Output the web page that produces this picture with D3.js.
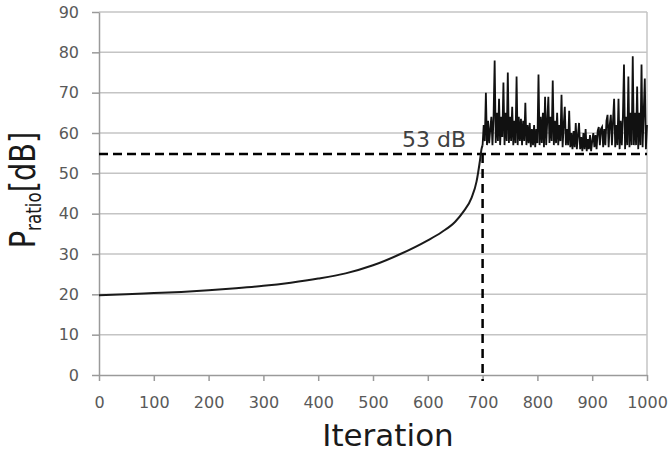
<!DOCTYPE html>
<html><head><meta charset="utf-8">
<script src="https://cdn.jsdelivr.net/npm/d3@7"></script>
<style>html,body{margin:0;padding:0;background:#fff;} svg{display:block;}</style>
</head><body>
<svg id="chart" width="670" height="452"></svg>
<script>
const curveIter = [0,50,100,150,200,250,300,350,400,450,500,550,600,625,650,665,680,689,695,698,700];
const curveVal  = [19.8,20.0,20.3,20.6,21.0,21.5,22.1,22.9,23.9,25.2,27.2,30.0,33.4,35.4,38.0,40.5,44.0,48.0,53.0,56.0,57.0];
const noiseIter = d3.range(700, 1001, 2);
const noiseVal = [
  57,62,58,70,57,63,57.5,61,64,57,
  64,78,57.5,65,58,68.5,57,64,59,72.5,
  57,65,58,75,57.5,64,58,66.5,57,63,
  57.5,74,57,64,58,63.5,57,63,58,67.5,
  57,62,57.5,62.5,56.5,61,57,62,56.5,61,
  57.5,74.5,57,64,57.5,65,56.5,69,57,63,
  69,57.5,64,58,73,57,63,57.5,65,57,
  62,58,69.5,56.5,62,66.5,57,61,57,65.5,
  56.5,60,56,60.5,56.5,62.5,56,59.5,62.5,56,
  59,55.5,60,56,61,55.5,58.5,56,59.5,55.5,
  58,60,56.5,59.5,56,60.5,61.5,57,61,61.5,
  56.5,61,57,63,64.5,56.5,62,64.5,57,63,
  68.5,56.5,62,57,68.5,56,63,57,64,77,
  56,64,57,74,56.5,65,57,79,57,65,
  57,71.5,56,65,57,77,56.5,65,73.5,56,
  62
];
const xTicks = [0,100,200,300,400,500,600,700,800,900,1000];
const yTicks = [0,10,20,30,40,50,60,70,80,90];
const thresholdDb = 54.8;
const thresholdIter = 700;
const annotation = "53 dB";
const xTitle = "Iteration";

const svg = d3.select("#chart");
const x = d3.scaleLinear().domain([0,1000]).range([99,647]);
const y = d3.scaleLinear().domain([0,90]).range([375,12]);

// gridlines
svg.append("g").selectAll("line").data(yTicks.filter(d=>d>0)).join("line")
  .attr("x1",x(0)).attr("x2",x(1000)).attr("y1",d=>y(d)).attr("y2",d=>y(d))
  .attr("stroke","#c4c4c4").attr("stroke-width",1.5);
// right border
svg.append("line").attr("x1",x(1000)).attr("x2",x(1000)).attr("y1",y(0)).attr("y2",y(90))
  .attr("stroke","#c4c4c4").attr("stroke-width",1.5);

// axes
const yAxis = svg.append("g").attr("transform",`translate(${x(0)},0)`)
  .call(d3.axisLeft(y).tickValues(yTicks).tickSize(7).tickPadding(13).tickSizeOuter(0));
const xAxis = svg.append("g").attr("transform",`translate(0,${y(0)})`)
  .call(d3.axisBottom(x).tickValues(xTicks).tickFormat(d3.format("d")).tickSize(6).tickPadding(16).tickSizeOuter(0));
[yAxis,xAxis].forEach(g=>{
  g.select(".domain").attr("stroke","#9a9a9a").attr("stroke-width",1.5);
  g.selectAll(".tick line").attr("stroke","#9a9a9a").attr("stroke-width",1.5);
  g.selectAll("text").attr("fill","#595959").style("font-family","'DejaVu Sans'").style("font-size","16px");
});

// dashed threshold lines
svg.append("line").attr("x1",x(0)).attr("x2",x(1000)).attr("y1",y(thresholdDb)).attr("y2",y(thresholdDb))
  .attr("stroke","#000").attr("stroke-width",2.5).attr("stroke-dasharray","9,5");
svg.append("line").attr("x1",x(thresholdIter)).attr("x2",x(thresholdIter)).attr("y1",y(thresholdDb)).attr("y2",y(0)+6)
  .attr("stroke","#000").attr("stroke-width",2.5).attr("stroke-dasharray","9,6");

// curve
const curveData = curveIter.map((d,i)=>[d,curveVal[i]]);
svg.append("path").datum(curveData)
  .attr("d", d3.line().x(d=>x(d[0])).y(d=>y(d[1])).curve(d3.curveMonotoneX))
  .attr("fill","none").attr("stroke","#1a1a1a").attr("stroke-width",2);
const n = Math.min(noiseIter.length, noiseVal.length);
const noiseData = d3.range(n).map(i=>[noiseIter[i],noiseVal[i]]);
svg.append("path").datum(noiseData)
  .attr("d", d3.line().x(d=>x(d[0])).y(d=>y(d[1])))
  .attr("fill","none").attr("stroke","#111").attr("stroke-width",1.8);

// annotation
svg.append("text").attr("x",402).attr("y",147).text(annotation)
  .attr("fill","#404040").style("font-family","'DejaVu Sans'").style("font-size","22px");

// axis titles
svg.append("text").attr("x",388).attr("y",446).attr("text-anchor","middle").text(xTitle)
  .attr("fill","#1a1a1a").style("font-family","'DejaVu Sans'").style("font-size","31px");
const yt = svg.append("text").attr("transform","translate(35,190) rotate(-90) scale(0.8,1)").attr("text-anchor","middle")
  .attr("fill","#1a1a1a").style("font-family","'DejaVu Sans'").style("font-size","36px");
yt.append("tspan").text("P");
yt.append("tspan").attr("dy","6").style("font-size","21px").text("ratio");
yt.append("tspan").attr("dy","-6").text("[dB]");
</script>
</body></html>
